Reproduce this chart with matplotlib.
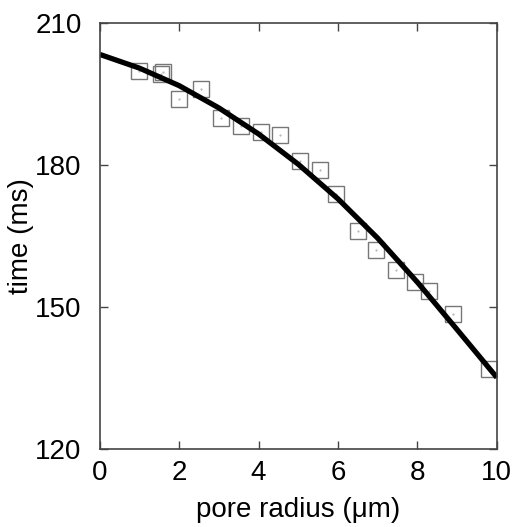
import numpy as np
import matplotlib.pyplot as plt

plt.rcParams['font.family'] = ['Liberation Sans', 'DejaVu Sans']

# measured points (pore radius in um, time in ms)
radius = [1.0, 1.55, 1.6, 2.0, 2.55, 3.05, 3.55, 4.05, 4.55, 5.05,
          5.55, 5.95, 6.5, 6.95, 7.45, 7.95, 8.3, 8.9, 9.8]
time_ms = [199.9, 199.2, 199.6, 193.8, 195.9, 189.9, 188.1, 186.9, 186.3, 180.7,
           178.8, 173.9, 166.1, 162.1, 157.7, 155.3, 153.4, 148.5, 136.9]

# fitted curve
fit_r = [0, 1, 2, 3, 4, 5, 6, 7, 8, 9, 10]
fit_t = [203.3, 200.4, 196.7, 192.0, 186.5, 180.1, 172.8, 164.5, 155.2, 145.2, 135.1]

fig = plt.figure(figsize=(5.17, 5.27), dpi=100)
ax = fig.add_axes([0.193, 0.148, 0.768, 0.809])

ax.plot(radius, time_ms, 's', markersize=11.5, markerfacecolor='none',
        markeredgecolor='#777777', markeredgewidth=1.0)
ax.plot(radius, time_ms, '.', markersize=1, color='#aaaaaa')
ax.plot(fit_r, fit_t, color='black', linewidth=3.8, solid_capstyle='butt')

ax.set_xlim(0, 10)
ax.set_ylim(120, 210)
ax.set_xticks([0, 2, 4, 6, 8, 10])
ax.set_yticks([120, 150, 180, 210])
ax.tick_params(direction='in', length=6, width=1, color='#444444',
               top=True, right=True, labelsize=20)
ax.tick_params(axis='x', pad=8)
ax.tick_params(axis='y', pad=13)
for s in ax.spines.values():
    s.set_color('#444444')
    s.set_linewidth(1.2)

ax.set_xlabel('pore radius (\u03bcm)', fontsize=20, labelpad=8)
ax.set_ylabel('time (ms)', fontsize=20, labelpad=1)

plt.savefig('out.png', dpi=100)
